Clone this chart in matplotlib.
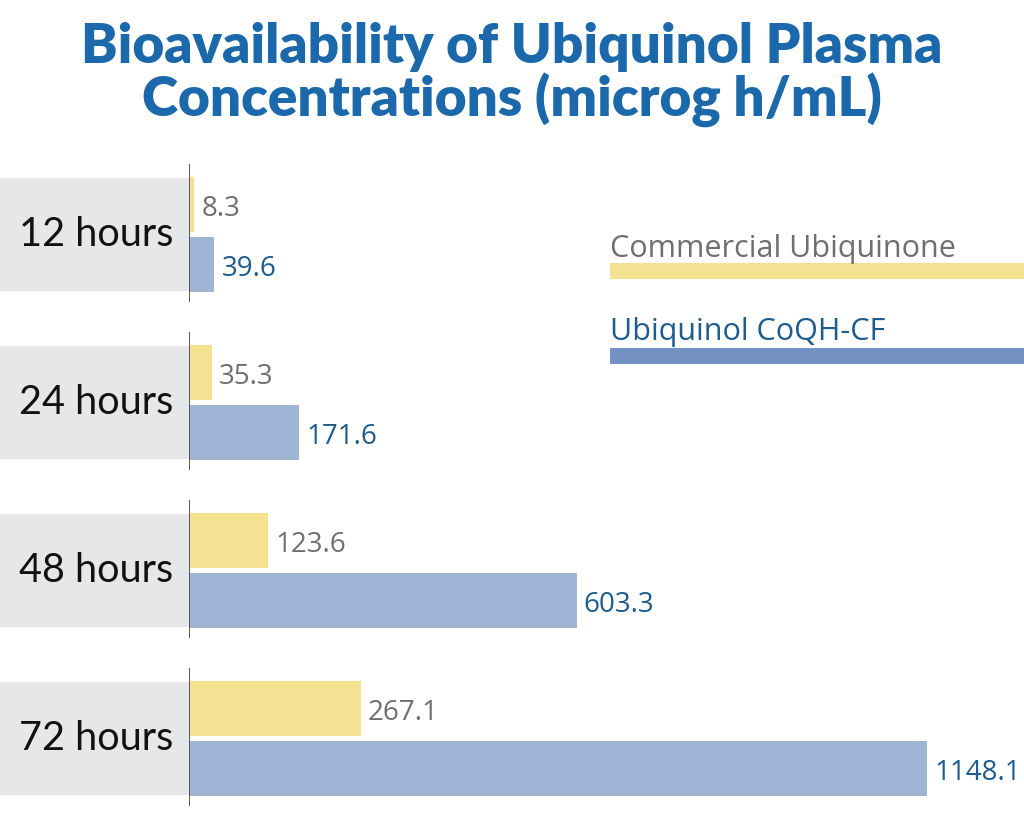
import numpy as np
import matplotlib.pyplot as plt
from matplotlib.patches import Rectangle
from matplotlib.transforms import blended_transform_factory

# data
hours = ['12 hours', '24 hours', '48 hours', '72 hours']
ubiquinone = [8.3, 35.3, 123.6, 267.1]
ubiquinol = [39.6, 171.6, 603.3, 1148.1]
series_names = ['Commercial Ubiquinone', 'Ubiquinol CoQH-CF']

YELLOW = '#f4e191'
BLUE = '#a0b4d6'
LEG_BLUE = '#7391c2'
TITLE_BLUE = '#1b68ab'
GRAY_TXT = '#6f6f70'
BLUE_TXT = '#1d5c8c'
BOX = '#e6e7e9'

plt.rcParams['font.family'] = ['Lato', 'DejaVu Sans']
THIN = ['Open Sans', 'DejaVu Sans']

W, H = 1024, 824
fig = plt.figure(figsize=(W / 100, H / 100), dpi=100)

x0 = 189  # pixel where the value axis starts
ax = fig.add_axes([x0 / W, 0, 1 - x0 / W, (H - 150) / H])
ax.set_xlim(0, (W - x0) / 0.643)
ax.set_ylim(3.509, -0.503)
ax.axis('off')

y = np.arange(len(hours))
bh = 0.327
off = 0.176

ax.barh(y - off, ubiquinone, height=bh, color=YELLOW, zorder=2)
ax.barh(y + off, ubiquinol, height=bh, color=BLUE, zorder=2)

# axis segments per group
ax.vlines(np.zeros(len(y)), y - 0.42, y + 0.40, color='#4a4a4a', lw=1.3, zorder=3)

# grey label boxes left of the axis
tr = blended_transform_factory(ax.transAxes, ax.transData)
left = -x0 / (W - x0)
for yi, lab in zip(y, hours):
    ax.add_patch(Rectangle((left, yi - 0.336), -left, 0.672, transform=tr,
                           facecolor=BOX, edgecolor='none', clip_on=False, zorder=1))
    ax.text(left * 0.085, yi + 0.0, lab, transform=tr, ha='right', va='center',
            fontsize=28.5, color='#111111', zorder=4)

# value labels
for yi, a, b in zip(y, ubiquinone, ubiquinol):
    ax.annotate(f'{a}', (a, yi - off + 0.025), xytext=(5, 0), textcoords='offset points',
                ha='left', va='center', fontsize=20, family=THIN, color=GRAY_TXT)
    ax.annotate(f'{b}', (b, yi + off + 0.03), xytext=(5, 0), textcoords='offset points',
                ha='left', va='center', fontsize=20, family=THIN, color=BLUE_TXT,
                annotation_clip=False)

# legend drawn by hand
fig.text(610 / W, 1 - 249 / H, series_names[0], ha='left', va='center',
         fontsize=22, family=THIN, color=GRAY_TXT)
fig.patches.append(Rectangle((610 / W, 1 - 279 / H), (W - 610) / W, 16 / H,
                             transform=fig.transFigure, facecolor=YELLOW, edgecolor='none'))
fig.text(610 / W, 1 - 332 / H, series_names[1], ha='left', va='center',
         fontsize=22, family=THIN, color=BLUE_TXT)
fig.patches.append(Rectangle((610 / W, 1 - 364 / H), (W - 610) / W, 16 / H,
                             transform=fig.transFigure, facecolor=LEG_BLUE, edgecolor='none'))

fig.text(0.5, 1 - 47 / H, 'Bioavailability of Ubiquinol Plasma', ha='center', va='center',
         fontsize=39.5, fontweight='heavy', color=TITLE_BLUE)
fig.text(0.5, 1 - 100 / H, 'Concentrations (microg h/mL)', ha='center', va='center',
         fontsize=39.5, fontweight='heavy', color=TITLE_BLUE)

fig.savefig('out.png', dpi=100)
